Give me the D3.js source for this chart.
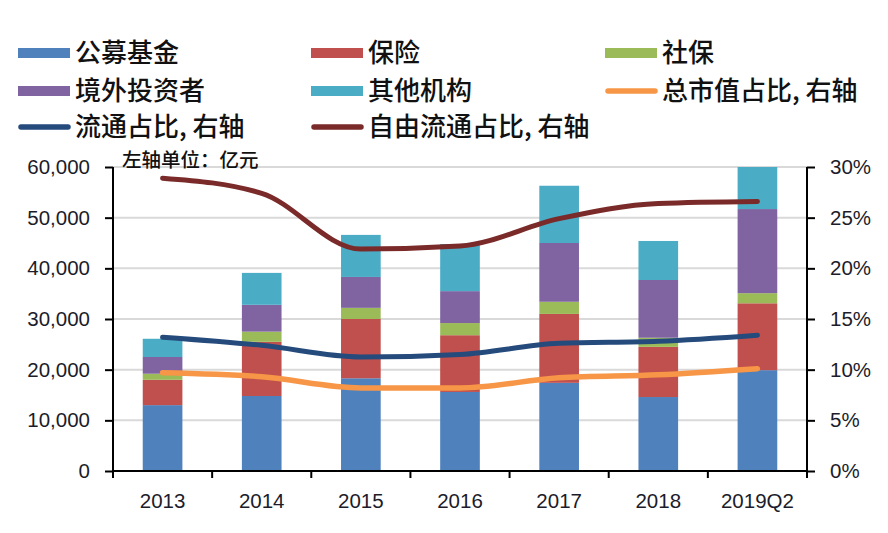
<!DOCTYPE html>
<html>
<head>
<meta charset="utf-8">
<script src="https://cdn.jsdelivr.net/npm/d3@7"></script>
<style>
  html, body { margin: 0; padding: 0; background: #fff; }
  svg { display: block; }
</style>
</head>
<body>
<svg id="chart" width="888" height="533"></svg>
<script>
// ---------- DATA ----------
const categories = ["2013", "2014", "2015", "2016", "2017", "2018", "2019Q2"];
const publicFunds   = [13000, 14800, 18300, 15600, 17400, 14600, 19900]; // 公募基金
const insurance     = [ 5000, 10700, 11700, 11200, 13600,  9900, 13200]; // 保险
const socialSec     = [ 1200,  2000,  2200,  2400,  2400,  1800,  2000]; // 社保
const foreignInv    = [ 3300,  5300,  6100,  6300, 11600, 11400, 16600]; // 境外投资者
const otherInst     = [ 3600,  6300,  8300,  9300, 11300,  7700,  8300]; // 其他机构
const totalMktShare = [0.097, 0.093, 0.082, 0.082, 0.092, 0.095, 0.101]; // 总市值占比
const floatShare    = [0.132, 0.124, 0.1125, 0.115, 0.126, 0.128, 0.134]; // 流通占比
const freeFloatShare= [0.289, 0.274, 0.219, 0.222, 0.249, 0.264, 0.266]; // 自由流通占比
const leftTicks  = [0, 10000, 20000, 30000, 40000, 50000, 60000];
const rightTicks = [0, 0.05, 0.10, 0.15, 0.20, 0.25, 0.30];

const barSeries = [
  { name: "公募基金",   values: publicFunds, color: "#4F81BD" },
  { name: "保险",       values: insurance,   color: "#C0504D" },
  { name: "社保",       values: socialSec,   color: "#9BBB59" },
  { name: "境外投资者", values: foreignInv,  color: "#8064A2" },
  { name: "其他机构",   values: otherInst,   color: "#4BACC6" }
];
const lineSeries = [
  { name: "总市值占比, 右轴",   values: totalMktShare,  color: "#F79646" },
  { name: "流通占比, 右轴",     values: floatShare,     color: "#254A7C" },
  { name: "自由流通占比, 右轴", values: freeFloatShare, color: "#7B2A2A" }
];

// ---------- LAYOUT ----------
const plot = { left: 113, right: 807, top: 167, bottom: 471 };
const svg = d3.select("#chart");
const tickFont = "'Liberation Sans', Arial, sans-serif";
const cjkFont = "'Noto Sans CJK SC', 'Noto Sans', sans-serif";

const x = d3.scaleBand().domain(categories)
  .range([plot.left, plot.right]).paddingInner(0.6).paddingOuter(0.3);
const yL = d3.scaleLinear().domain([0, 60000]).range([plot.bottom, plot.top]);
const yR = d3.scaleLinear().domain([0, 0.30]).range([plot.bottom, plot.top]);

// gridlines
svg.append("g").selectAll("line").data(leftTicks.filter(d => d > 0)).join("line")
  .attr("x1", plot.left).attr("x2", plot.right)
  .attr("y1", d => yL(d)).attr("y2", d => yL(d))
  .attr("stroke", "#d9d9d9").attr("stroke-width", 2);

// stacked bars
const stackData = categories.map((c, i) => {
  const o = { cat: c };
  barSeries.forEach(s => o[s.name] = s.values[i]);
  return o;
});
const stacked = d3.stack().keys(barSeries.map(s => s.name))(stackData);
svg.append("g").selectAll("g").data(stacked).join("g")
  .attr("fill", (d, i) => barSeries[i].color)
  .selectAll("rect").data(d => d).join("rect")
  .attr("x", d => x(d.data.cat))
  .attr("width", x.bandwidth())
  .attr("y", d => yL(Math.min(d[1], 60000)))
  .attr("height", d => yL(d[0]) - yL(Math.min(d[1], 60000)));

// lines
const cx = c => x(c) + x.bandwidth() / 2;
const lineGen = d3.line()
  .x((d, i) => cx(categories[i]))
  .y(d => yR(d))
  .curve(d3.curveMonotoneX);
svg.append("g").selectAll("path").data(lineSeries).join("path")
  .attr("d", d => lineGen(d.values))
  .attr("fill", "none")
  .attr("stroke", d => d.color)
  .attr("stroke-width", (d, i) => i === 0 ? 5.5 : 5)
  .attr("stroke-linecap", "round")
  .attr("stroke-linejoin", "round");

// left axis
const axL = svg.append("g").attr("transform", `translate(${plot.left},0)`)
  .call(d3.axisLeft(yL).tickValues(leftTicks).tickSize(8).tickPadding(15)
    .tickFormat(d3.format(",")));
// right axis
const axR = svg.append("g").attr("transform", `translate(${plot.right},0)`)
  .call(d3.axisRight(yR).tickValues(rightTicks).tickSize(8).tickPadding(15)
    .tickFormat(d3.format(".0%")));
[axL, axR].forEach(a => {
  a.select(".domain").attr("stroke", "#000").attr("stroke-width", 2)
    .attr("d", `M0,${plot.top}V${plot.bottom}`);
  a.selectAll(".tick line").attr("stroke", "#000").attr("stroke-width", 2);
  a.selectAll(".tick text").attr("font-family", tickFont).attr("font-size", 20.5)
    .attr("fill", "#1c1c2a");
});

// bottom axis
const step = x.step();
const boundaries = d3.range(categories.length + 1).map(i => plot.left + i * step);
const axB = svg.append("g");
axB.append("line").attr("x1", plot.left).attr("x2", plot.right)
  .attr("y1", plot.bottom).attr("y2", plot.bottom)
  .attr("stroke", "#000").attr("stroke-width", 2);
axB.selectAll("line.tk").data(boundaries).join("line").attr("class", "tk")
  .attr("x1", d => d).attr("x2", d => d)
  .attr("y1", plot.bottom).attr("y2", plot.bottom + 7)
  .attr("stroke", "#000").attr("stroke-width", 2);
axB.selectAll("text").data(categories).join("text")
  .attr("x", d => cx(d)).attr("y", 508)
  .attr("text-anchor", "middle")
  .attr("font-family", tickFont).attr("font-size", 20.5).attr("fill", "#1c1c2a")
  .text(d => d);

// unit label
svg.append("text").attr("x", 122).attr("y", 167)
  .attr("font-family", cjkFont).attr("font-size", 19.5).attr("font-weight", 500)
  .attr("fill", "#111").text("左轴单位：亿元");

// legend
const legendItems = [
  { name: "公募基金", color: "#4F81BD", type: "bar" },
  { name: "保险", color: "#C0504D", type: "bar" },
  { name: "社保", color: "#9BBB59", type: "bar" },
  { name: "境外投资者", color: "#8064A2", type: "bar" },
  { name: "其他机构", color: "#4BACC6", type: "bar" },
  { name: "总市值占比, 右轴", color: "#F79646", type: "line" },
  { name: "流通占比, 右轴", color: "#254A7C", type: "line" },
  { name: "自由流通占比, 右轴", color: "#7B2A2A", type: "line" }
];
const colX = [18, 311, 605];
const rowY = [53, 91, 127];
const lg = svg.append("g").selectAll("g").data(legendItems).join("g")
  .attr("transform", (d, i) => `translate(${colX[i % 3]},${rowY[Math.floor(i / 3)]})`);
lg.filter(d => d.type === "bar").append("rect")
  .attr("x", 0).attr("y", -5).attr("width", 52).attr("height", 10)
  .attr("fill", d => d.color);
lg.filter(d => d.type === "line").append("line")
  .attr("x1", 3).attr("x2", 50).attr("y1", 0).attr("y2", 0)
  .attr("stroke", d => d.color).attr("stroke-width", 5.5).attr("stroke-linecap", "round");
lg.append("text").attr("x", 57).attr("y", 0).attr("dy", "0.36em")
  .attr("font-family", cjkFont).attr("font-size", 26).attr("font-weight", 500)
  .attr("fill", "#111").text(d => d.name);
</script>
</body>
</html>
